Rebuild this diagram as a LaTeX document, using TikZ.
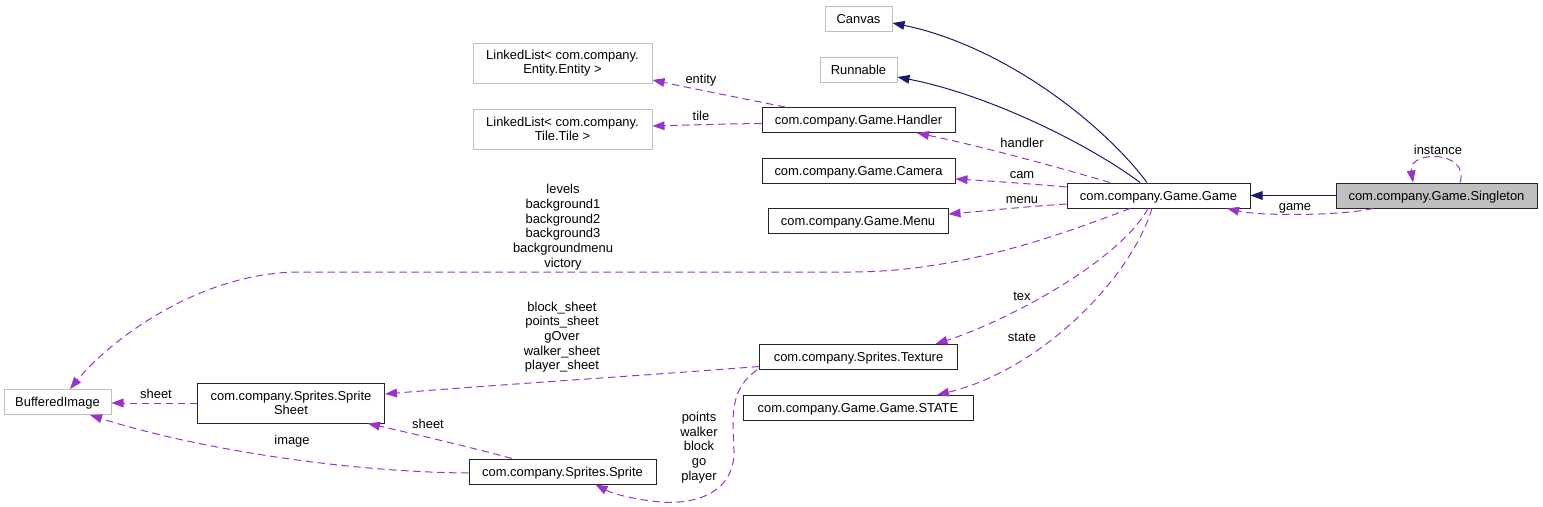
\documentclass[tikz,border=0pt]{standalone}
\usepackage{fontspec}
\setmainfont{Liberation Sans}
\usetikzlibrary{arrows.meta,calc}
\definecolor{navy}{HTML}{191970}
\definecolor{purp}{HTML}{9A32CD}
\definecolor{extgray}{HTML}{BFBFBF}
\definecolor{selgray}{HTML}{BFBFBF}
\newcommand{\fsz}{\fontsize{9.7}{11}\selectfont}
\tikzset{
  cls/.style={draw=black!85, line width=0.75pt, inner sep=0pt, minimum height=18.75pt,
    align=center, font=\fsz, text height=7.5pt, text depth=0.5pt},
  twoline/.style={minimum height=30pt, text height=, text depth=},
  extcls/.style={cls, draw=extgray},
  lbl/.style={inner sep=0pt, align=center, font=\fsz},
  lblone/.style={lbl, text height=7.5pt, text depth=0.5pt},
  tip/.style={-{Triangle[length=9pt,width=6.5pt]}},
  inh/.style={draw=navy, line width=0.75pt, tip},
  use/.style={draw=purp, line width=0.75pt, dash pattern=on 5.5pt off 3.5pt, tip},
}
\begin{document}
\begin{tikzpicture}[x=0.75pt,y=-0.75pt]
\useasboundingbox (0,0) rectangle (1543,507);
% nodes
\node[extcls, minimum width=50.25pt] (canvas) at (858.5,18.5) {Canvas};
\node[extcls, minimum width=57.75pt] (runnable) at (858.5,69.5) {Runnable};
\node[extcls, twoline, minimum width=134.25pt] (llentity) at (562.5,63) {LinkedList< com.company.\\Entity.Entity >};
\node[extcls, twoline, minimum width=134.25pt] (lltile) at (562.5,129) {LinkedList< com.company.\\Tile.Tile >};
\node[cls, minimum width=144.75pt] (handler) at (858.5,120) {com.company.Game.Handler};
\node[cls, minimum width=144.75pt] (camera) at (858.5,170.5) {com.company.Game.Camera};
\node[cls, minimum width=135pt] (menu) at (858,220.5) {com.company.Game.Menu};
\node[cls, minimum width=137.25pt] (game) at (1158.5,195.5) {com.company.Game.Game};
\node[cls, minimum width=150.75pt, fill=selgray] (singleton) at (1436.5,195.5) {com.company.Game.Singleton};
\node[extcls, minimum width=80.25pt] (bufimg) at (57.5,402) {BufferedImage};
\node[cls, twoline, minimum width=140.25pt] (spritesheet) at (291,403) {com.company.Sprites.Sprite\\Sheet};
\node[cls, minimum width=148.5pt] (texture) at (858.5,357) {com.company.Sprites.Texture};
\node[cls, minimum width=172.5pt] (state) at (858,408) {com.company.Game.Game.STATE};
\node[cls, minimum width=140.25pt] (sprite) at (562.5,471.5) {com.company.Sprites.Sprite};
% inheritance
\draw[inh] ($(game.north)+(-11.5,0)$) .. controls (1100,120) and (1000,45) .. ($(canvas.east)+(0,4.5)$);
\draw[inh] ($(game.north)+(-18.5,0)$) .. controls (1090,145) and (990,95) .. ($(runnable.east)+(0,7.5)$);
\draw[inh] (singleton.west) -- (game.east);
% usage
\draw[use] ($(singleton.south)+(-63.5,0)$) .. controls (1340,216) and (1260,216) .. ($(game.south)+(68.5,0)$);
\node[lblone] (lgame) at (1295,206) {game};
\draw[use] ($(singleton.north)+(23.5,0)$) .. controls (1470,150) and (1408,150) .. ($(singleton.north)+(-23.5,0)$);
\node[lblone] (linstance) at (1438,150) {instance};
\draw[use] ($(game.north)+(-48.5,0)$) .. controls (1050,165) and (980,146) .. ($(handler.south)+(58.5,0)$);
\node[lblone] (lhandler) at (1022,143) {handler};
\draw[use] ($(game.west)+(0,-8.5)$) .. controls (1020,183) and (990,181) .. ($(camera.east)+(0,8.5)$);
\node[lblone] (lcam) at (1022,174) {cam};
\draw[use] ($(game.west)+(0,8.5)$) .. controls (1020,207) and (985,211) .. ($(menu.east)+(0,-6.5)$);
\node[lblone] (lmenu) at (1022,199) {menu};
\draw[use] ($(game.south)+(-28.5,0)$) .. controls (1060,235) and (960,272) .. (850,272) -- (300,272) .. controls (200,272) and (110,340) .. ($(bufimg.north)+(12.5,0)$);
\node[lbl] (llevels) at (563,227) {levels\\background1\\background2\\background3\\backgroundmenu\\victory};
\draw[use] ($(game.south)+(-10.5,0)$) .. controls (1120,260) and (1010,320) .. ($(texture.north)+(77,0)$);
\node[lblone] (ltex) at (1022,296) {tex};
\draw[use] ($(game.south)+(-6.5,0)$) .. controls (1130,280) and (1040,370) .. ($(state.north)+(79,0)$);
\node[lblone] (lstate) at (1022,337) {state};
\draw[use] ($(handler.north)+(-73.5,0)$) .. controls (740,98) and (690,88) .. ($(llentity.east)+(0,17)$);
\node[lblone] (lentity) at (701,79) {entity};
\draw[use] ($(handler.west)+(0,3.5)$) .. controls (720,124) and (690,125) .. ($(lltile.east)+(0,-3)$);
\node[lblone] (ltile) at (701,116) {tile};
\draw[use] ($(texture.west)+(0,9.5)$) .. controls (650,375) and (480,386) .. ($(spritesheet.east)+(0,-9)$);
\node[lbl] (lsheets) at (562,337) {block\_sheet\\points\_sheet\\gOver\\walker\_sheet\\player\_sheet};
\draw[use] ($(texture.south west)+(-2,0)$) .. controls (728,390) and (733,420) .. (734,450) .. controls (735,490) and (700,505) .. (660,502) .. controls (640,500) and (615,495) .. ($(sprite.south)+(33,0)$);
\node[lbl] (lsprites) at (699,447.5) {points\\walker\\block\\go\\player};
\draw[use] (spritesheet.west) -- (spritesheet.west -| bufimg.east);
\node[lblone] (lsheet) at (156,394) {sheet};
\draw[use] ($(sprite.north)+(-50.5,0)$) .. controls (470,447) and (410,433) .. ($(spritesheet.south)+(77,0)$);
\node[lblone] (lsheet2) at (428,424) {sheet};
\draw[use] ($(sprite.west)+(0,1.5)$) .. controls (350,472) and (200,450) .. ($(bufimg.south)+(32.5,0)$);
\node[lblone] (limage) at (292,440) {image};
\end{tikzpicture}
\end{document}
